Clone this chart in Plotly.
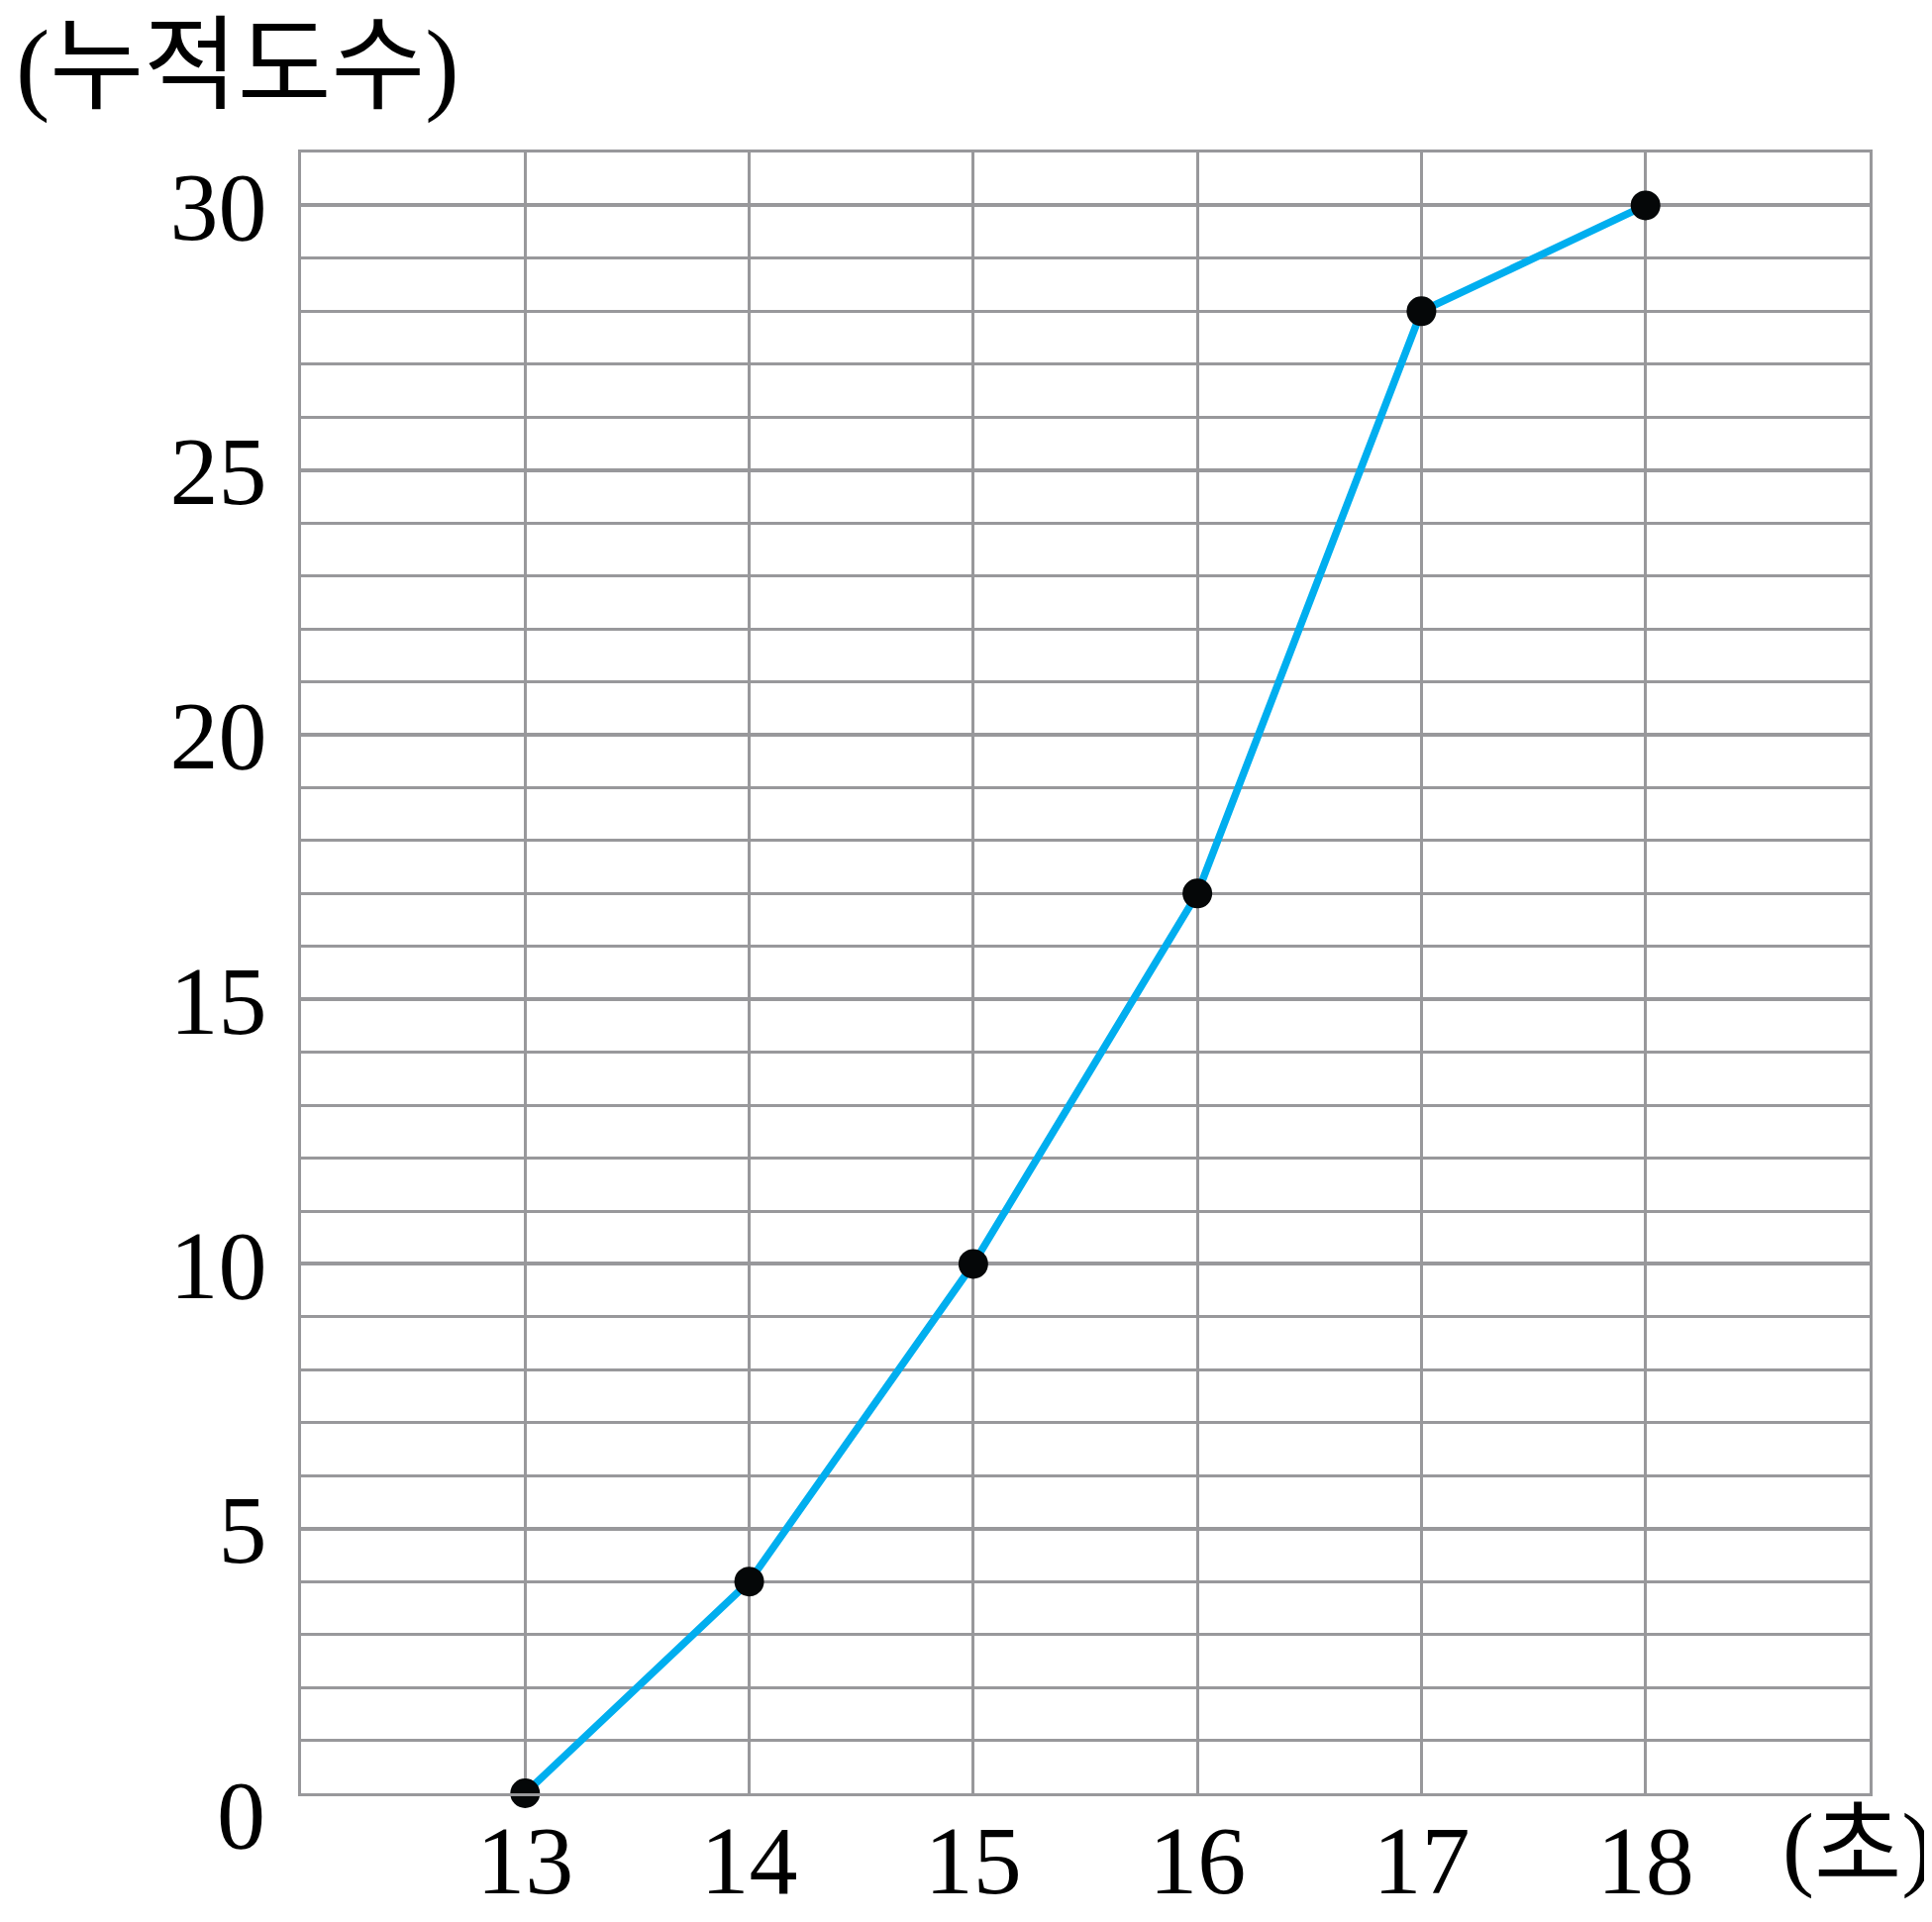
import plotly.graph_objects as go

x_vals = [13, 14, 15, 16, 17, 18]
y_vals = [0, 4, 10, 17, 28, 30]
x_ticks = [13, 14, 15, 16, 17, 18]
y_ticks = [5, 10, 15, 20, 25, 30]
y_title = "(누적도수)"
x_title = "(초)"

GRID = "#98989b"
NUM_FONT = "Liberation Serif"
KR_FONT = "Liberation Serif, Noto Sans CJK KR"

W, H = 1951, 1941
L, R, T, B = 296, 71, 146, 138
PW, PH = W - L - R, H - T - B

fig = go.Figure()
fig.add_trace(go.Scatter(
    x=x_vals, y=y_vals, mode="lines+markers",
    line=dict(color="#00AEEF", width=7.5),
    marker=dict(color="#050708", size=30),
    showlegend=False, cliponaxis=False,
))

fig.update_layout(
    width=W, height=H,
    margin=dict(l=L, r=R, t=T, b=B, autoexpand=False),
    paper_bgcolor="white", plot_bgcolor="white",
    xaxis=dict(
        range=[12, 19], tickvals=x_ticks, ticktext=[str(v) for v in x_ticks],
        showgrid=True, gridcolor=GRID, gridwidth=2.5, automargin=False,
        showline=True, linecolor=GRID, linewidth=3, mirror=True,
        zeroline=False, ticks="", ticklabelstandoff=-20,
        tickfont=dict(family=NUM_FONT, size=98, color="black"),
    ),
    yaxis=dict(
        range=[0, 31], tickvals=y_ticks, ticktext=[str(v) for v in y_ticks],
        showgrid=True, gridcolor=GRID, gridwidth=4, automargin=False,
        minor=dict(dtick=1, tick0=0, showgrid=True, gridcolor=GRID, gridwidth=2.5),
        showline=True, linecolor=GRID, linewidth=3, mirror=True,
        zeroline=False, ticks="", ticklabelstandoff=12,
        tickfont=dict(family=NUM_FONT, size=98, color="black"),
    ),
)

fig.add_annotation(x=12, y=0, xref="x", yref="y", text="0", showarrow=False,
                   xanchor="right", yanchor="middle", xshift=-34, yshift=-22,
                   font=dict(family=NUM_FONT, size=98, color="black"))
fig.add_annotation(x=(6 - L) / PW, y=1 + (T - 60) / PH, xref="paper", yref="paper",
                   text=y_title, showarrow=False,
                   xanchor="left", yanchor="middle",
                   font=dict(family=KR_FONT, size=103, color="black"))
fig.add_annotation(x=(1946 - L) / PW, y=-(1856 - (T + PH)) / PH, xref="paper", yref="paper",
                   text=x_title, showarrow=False,
                   xanchor="right", yanchor="middle",
                   font=dict(family=KR_FONT, size=96, color="black"))

fig.write_html("out.html")
